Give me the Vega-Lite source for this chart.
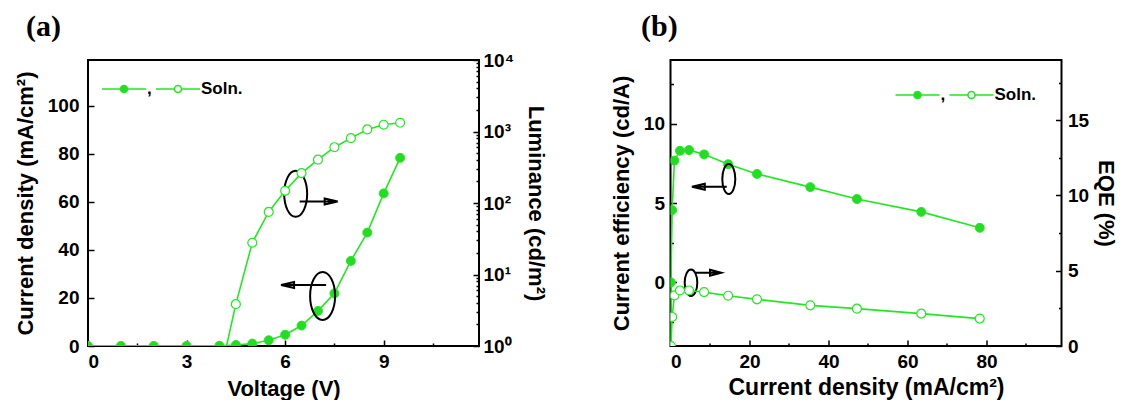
{
  "$schema": "https://vega.github.io/schema/vega-lite/v6.json",
  "background": "white",
  "padding": {"left": 13, "top": 11, "right": 0, "bottom": 0},
  "datasets": {
    "dev": [
      {"V": 0, "J": 0.05},
      {"V": 1, "J": 0.05},
      {"V": 2, "J": 0.05},
      {"V": 3, "J": 0.05, "CE": -6},
      {"V": 4, "J": 0.1, "L": 0.36, "CE": 0, "EQE": 0},
      {"V": 4.5, "J": 0.42, "L": 3.85, "CE": 4.55, "EQE": 1.93},
      {"V": 5, "J": 1.0, "L": 27.8, "CE": 7.67, "EQE": 3.36},
      {"V": 5.5, "J": 2.4, "L": 75, "CE": 8.29, "EQE": 3.69},
      {"V": 6, "J": 4.7, "L": 148, "CE": 8.33, "EQE": 3.69},
      {"V": 6.5, "J": 8.5, "L": 262, "CE": 8.06, "EQE": 3.58},
      {"V": 7, "J": 14.6, "L": 404, "CE": 7.44, "EQE": 3.34},
      {"V": 7.5, "J": 21.9, "L": 603, "CE": 6.83, "EQE": 3.10},
      {"V": 8, "J": 35.4, "L": 807, "CE": 6.0, "EQE": 2.70},
      {"V": 8.5, "J": 47.2, "L": 1069, "CE": 5.25, "EQE": 2.48},
      {"V": 9, "J": 63.5, "L": 1243, "CE": 4.44, "EQE": 2.15},
      {"V": 9.5, "J": 78.3, "L": 1325, "CE": 3.44, "EQE": 1.82}
    ]
  },
  "hconcat": [
    {
      "width": 391,
      "height": 286,
      "data": {"name": "dev"},
      "title": {"text": "(a)", "anchor": "start", "frame": "group", "dx": -62, "dy": 34, "offset": 19, "font": "Liberation Serif", "fontSize": 30, "fontWeight": "bold", "baseline": "alphabetic", "color": "black"},
      "layer": [
        {
          "layer": [
            {
              "mark": {"type": "line", "color": "#22e822", "strokeWidth": 1.6, "clip": true, "invalid": "filter"},
              "encoding": {
                "x": {"field": "V", "type": "quantitative", "scale": {"domain": [0, 11.9], "nice": false, "zero": false},
                  "axis": {"title": "Voltage (V)", "values": [0, 1.5, 3, 4.5, 6, 7.5, 9, 10.5],
                    "labelExpr": "datum.value % 3 == 0 ? format(datum.value, 'd') : ''",
                    "tickSize": {"condition": {"test": "datum.value % 3 == 0", "value": -6}, "value": -3},
                    "labelPadding": 12, "titlePadding": 7}},
                "y": {"field": "J", "type": "quantitative", "scale": {"domain": [0, 119], "nice": false},
                  "axis": {"title": "Current density (mA/cm²)", "values": [0, 10, 20, 30, 40, 50, 60, 70, 80, 90, 100, 110],
                    "labelExpr": "datum.value % 20 == 0 ? format(datum.value, 'd') : ''",
                    "tickSize": {"condition": {"test": "datum.value % 20 == 0", "value": -6}, "value": -3},
                    "labelPadding": 15, "titlePadding": 10}}
              }
            },
            {
              "mark": {"type": "point", "filled": true, "size": 80, "stroke": "#22e822", "strokeWidth": 1, "opacity": 1, "clip": true, "invalid": "filter"},
              "encoding": {
                "x": {"field": "V", "type": "quantitative"},
                "y": {"field": "J", "type": "quantitative"},
                "fill": {"datum": "J", "type": "nominal", "scale": {"domain": ["J", "L"], "range": ["#22dd22", "#ffffff"]},
                  "legend": {"orient": "none", "legendX": 13, "legendY": 6, "direction": "horizontal", "title": null,
                    "symbolType": "M-1,0H-0.16M0.16,0H1M0.16,0A0.16,0.16,0,1,1,-0.16,0A0.16,0.16,0,1,1,0.16,0Z",
                    "symbolSize": 1936, "symbolStrokeColor": "#22e822", "symbolStrokeWidth": 1.6,
                    "labelExpr": "datum.label == 'J' ? ',' : 'Soln.'",
                    "labelFont": "Liberation Sans", "labelFontWeight": "bold", "labelFontSize": 17, "labelColor": "black",
                    "labelOffset": 0, "columnPadding": 0}}
              }
            },
            {
              "data": {"values": [{"V": 6.32, "J": 63.3}]},
              "mark": {"type": "point", "filled": false, "color": "black", "strokeWidth": 2, "size": 4, "opacity": 1,
                "shape": "M11.5,0A11.5,23,0,1,1,-11.5,0A11.5,23,0,1,1,11.5,0M4,7.7H31M29,4.7L42,7.7L29,10.7ZM30,7.7H40"},
              "encoding": {"x": {"field": "V", "type": "quantitative"}, "y": {"field": "J", "type": "quantitative"}}
            },
            {
              "data": {"values": [{"V": 7.14, "J": 20.8}]},
              "mark": {"type": "point", "filled": false, "color": "black", "strokeWidth": 2, "size": 4, "opacity": 1,
                "shape": "M12.5,0A12.5,24,0,1,1,-12.5,0A12.5,24,0,1,1,12.5,0M3.5,-11H-30M-28.5,-14L-41.5,-11L-28.5,-8ZM-29,-11H-39"},
              "encoding": {"x": {"field": "V", "type": "quantitative"}, "y": {"field": "J", "type": "quantitative"}}
            }
          ]
        },
        {
          "layer": [
            {
              "mark": {"type": "line", "color": "#22e822", "strokeWidth": 1.6, "clip": true, "invalid": "filter"},
              "encoding": {
                "x": {"field": "V", "type": "quantitative"},
                "y": {"field": "L", "type": "quantitative", "scale": {"type": "log", "domain": [1, 10000], "nice": false},
                  "axis": {"orient": "right", "title": "Luminance (cd/m²)",
                    "values": [1, 2, 3, 4, 5, 6, 7, 8, 9, 10, 20, 30, 40, 50, 60, 70, 80, 90, 100, 200, 300, 400, 500, 600, 700, 800, 900, 1000, 2000, 3000, 4000, 5000, 6000, 7000, 8000, 9000, 10000],
                    "labelExpr": "abs(log(datum.value)/LN10 - round(log(datum.value)/LN10)) < 0.000001 ? '10' + ['⁰','¹','²','³','⁴'][round(log(datum.value)/LN10)] : ''",
                    "tickSize": {"condition": {"test": "abs(log(datum.value)/LN10 - round(log(datum.value)/LN10)) < 0.000001", "value": -6}, "value": -3},
                    "labelPadding": 10, "titlePadding": 10}}
              }
            },
            {
              "mark": {"type": "point", "filled": true, "size": 80, "stroke": "#22e822", "strokeWidth": 1.2, "opacity": 1, "clip": true, "invalid": "filter"},
              "encoding": {
                "x": {"field": "V", "type": "quantitative"},
                "y": {"field": "L", "type": "quantitative"},
                "fill": {"datum": "L", "type": "nominal"}
              }
            }
          ]
        }
      ],
      "resolve": {"scale": {"y": "independent"}}
    },
    {
      "width": 391,
      "height": 286,
      "data": {"name": "dev"},
      "title": {"text": "(b)", "anchor": "start", "frame": "group", "dx": -29.5, "dy": 25, "offset": 19, "font": "Liberation Serif", "fontSize": 30, "fontWeight": "bold", "baseline": "alphabetic", "color": "black"},
      "layer": [
        {
          "layer": [
            {
              "mark": {"type": "line", "color": "#22e822", "strokeWidth": 1.6, "clip": true, "invalid": "filter"},
              "encoding": {
                "x": {"field": "J", "type": "quantitative", "scale": {"domain": [0, 99], "nice": false, "zero": false},
                  "axis": {"title": "Current density (mA/cm²)", "titleFontSize": 23, "values": [0, 10, 20, 30, 40, 50, 60, 70, 80, 90],
                    "labelExpr": "datum.value % 20 == 0 ? format(datum.value, 'd') : ''",
                    "tickSize": {"condition": {"test": "datum.value % 20 == 0", "value": -6}, "value": -3},
                    "labelPadding": 12, "titlePadding": 5}},
                "y": {"field": "CE", "type": "quantitative", "scale": {"domain": [-4, 14], "nice": false, "zero": false},
                  "axis": {"title": "Current efficiency (cd/A)", "values": [-2.5, 0, 2.5, 5, 7.5, 10, 12.5],
                    "labelExpr": "datum.value % 5 == 0 ? format(datum.value, 'd') : ''",
                    "tickSize": {"condition": {"test": "datum.value % 5 == 0", "value": -6}, "value": -3},
                    "labelPadding": 12, "titlePadding": 10}}
              }
            },
            {
              "mark": {"type": "point", "filled": true, "size": 80, "stroke": "#22e822", "strokeWidth": 1, "opacity": 1, "clip": true, "invalid": "filter"},
              "encoding": {
                "x": {"field": "J", "type": "quantitative"},
                "y": {"field": "CE", "type": "quantitative"},
                "fill": {"datum": "CE", "type": "nominal", "scale": {"domain": ["CE", "EQE"], "range": ["#22dd22", "#ffffff"]},
                  "legend": {"orient": "none", "legendX": 224, "legendY": 12, "direction": "horizontal", "title": null,
                    "symbolType": "M-1,0H-0.16M0.16,0H1M0.16,0A0.16,0.16,0,1,1,-0.16,0A0.16,0.16,0,1,1,0.16,0Z",
                    "symbolSize": 1936, "symbolStrokeColor": "#22e822", "symbolStrokeWidth": 1.6,
                    "labelExpr": "datum.label == 'CE' ? ',' : 'Soln.'",
                    "labelFont": "Liberation Sans", "labelFontWeight": "bold", "labelFontSize": 17, "labelColor": "black",
                    "labelOffset": 0, "columnPadding": 0}}
              }
            },
            {
              "data": {"values": [{"J": 14.76, "CE": 6.51}]},
              "mark": {"type": "point", "filled": false, "color": "black", "strokeWidth": 2, "size": 4, "opacity": 1,
                "shape": "M6.5,0A6.5,15,0,1,1,-6.5,0A6.5,15,0,1,1,6.5,0M-2,7.7H-26M-24,4.7L-36.8,7.7L-24,10.7ZM-25,7.7H-34"},
              "encoding": {"x": {"field": "J", "type": "quantitative"}, "y": {"field": "CE", "type": "quantitative"}}
            },
            {
              "data": {"values": [{"J": 5.19, "CE": -0.02}]},
              "mark": {"type": "point", "filled": false, "color": "black", "strokeWidth": 2, "size": 4, "opacity": 1,
                "shape": "M6.3,0A6.3,13.3,0,1,1,-6.3,0A6.3,13.3,0,1,1,6.3,0M3.7,-10H21M19,-13L30.3,-10L19,-7ZM20,-10H28"},
              "encoding": {"x": {"field": "J", "type": "quantitative"}, "y": {"field": "CE", "type": "quantitative"}}
            }
          ]
        },
        {
          "layer": [
            {
              "mark": {"type": "line", "color": "#22e822", "strokeWidth": 1.6, "clip": true, "invalid": "filter"},
              "encoding": {
                "x": {"field": "J", "type": "quantitative"},
                "y": {"field": "EQE", "type": "quantitative", "scale": {"domain": [0, 19], "nice": false},
                  "axis": {"orient": "right", "title": "EQE (%)", "values": [0, 2.5, 5, 7.5, 10, 12.5, 15, 17.5],
                    "labelExpr": "datum.value % 5 == 0 ? format(datum.value, 'd') : ''",
                    "tickSize": {"condition": {"test": "datum.value % 5 == 0", "value": -6}, "value": -3},
                    "labelPadding": 12, "titlePadding": 5}}
              }
            },
            {
              "mark": {"type": "point", "filled": true, "size": 80, "stroke": "#22e822", "strokeWidth": 1.2, "opacity": 1, "clip": true, "invalid": "filter"},
              "encoding": {
                "x": {"field": "J", "type": "quantitative"},
                "y": {"field": "EQE", "type": "quantitative"},
                "fill": {"datum": "EQE", "type": "nominal"}
              }
            }
          ]
        }
      ],
      "resolve": {"scale": {"y": "independent"}}
    }
  ],
  "spacing": 191.5,
  "bounds": "flush",
  "resolve": {"scale": {"fill": "independent"}, "legend": {"fill": "independent"}},
  "config": {
    "view": {"stroke": "black", "strokeWidth": 2},
    "axis": {
      "grid": false, "domain": false,
      "tickColor": "black", "tickWidth": 1.5,
      "labelFont": "Liberation Sans", "labelFontWeight": "bold", "labelFontSize": 19, "labelColor": "black",
      "titleFont": "Liberation Sans", "titleFontWeight": "bold", "titleFontSize": 22, "titleColor": "black"
    }
  }
}
